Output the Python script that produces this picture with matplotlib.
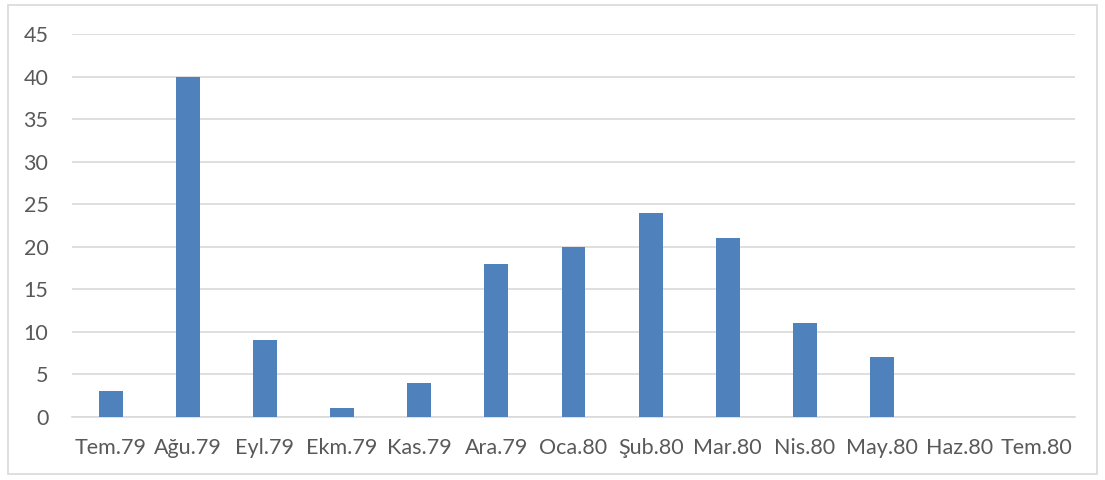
import matplotlib.pyplot as plt
from matplotlib.patches import Rectangle

# Monthly counts, Tem.79 - Tem.80
months = ['Tem.79', 'Ağu.79', 'Eyl.79', 'Ekm.79', 'Kas.79', 'Ara.79', 'Oca.80',
          'Şub.80', 'Mar.80', 'Nis.80', 'May.80', 'Haz.80', 'Tem.80']
counts = [3, 40, 9, 1, 4, 18, 20, 24, 21, 11, 7, 0, 0]
yticks = list(range(0, 50, 5))

plt.rcParams['font.family'] = ['Lato', 'DejaVu Sans']

fig = plt.figure(figsize=(11.05, 4.8), dpi=100)
ax = fig.add_axes([72 / 1105, 1 - 417 / 480, (1075 - 72) / 1105, (417 - 34) / 480])

x = list(range(len(months)))
ax.bar(x, counts, width=0.31, color='#4F81BD', zorder=3)

ax.set_xlim(-0.5, len(months) - 0.5)
ax.set_ylim(0, 45)
ax.set_yticks(yticks)
ax.set_xticks(x)
ax.set_xticklabels(months)
ax.yaxis.grid(True, color='#D9D9D9', linewidth=1.2, zorder=0)
ax.tick_params(axis='both', length=0, labelsize=15.5, colors='#595959')
ax.tick_params(axis='x', pad=15)
ax.tick_params(axis='y', pad=17)
for side in ['top', 'right', 'left']:
    ax.spines[side].set_visible(False)
ax.spines['bottom'].set_color('#D9D9D9')
ax.spines['bottom'].set_linewidth(1.2)

# outer chart border
fig.patches.append(Rectangle((8 / 1105, 1 - 474 / 480), 1089 / 1105, 469 / 480,
                             transform=fig.transFigure, fill=False,
                             edgecolor='#D9D9D9', linewidth=1.2))

fig.savefig('out.png', dpi=100)
